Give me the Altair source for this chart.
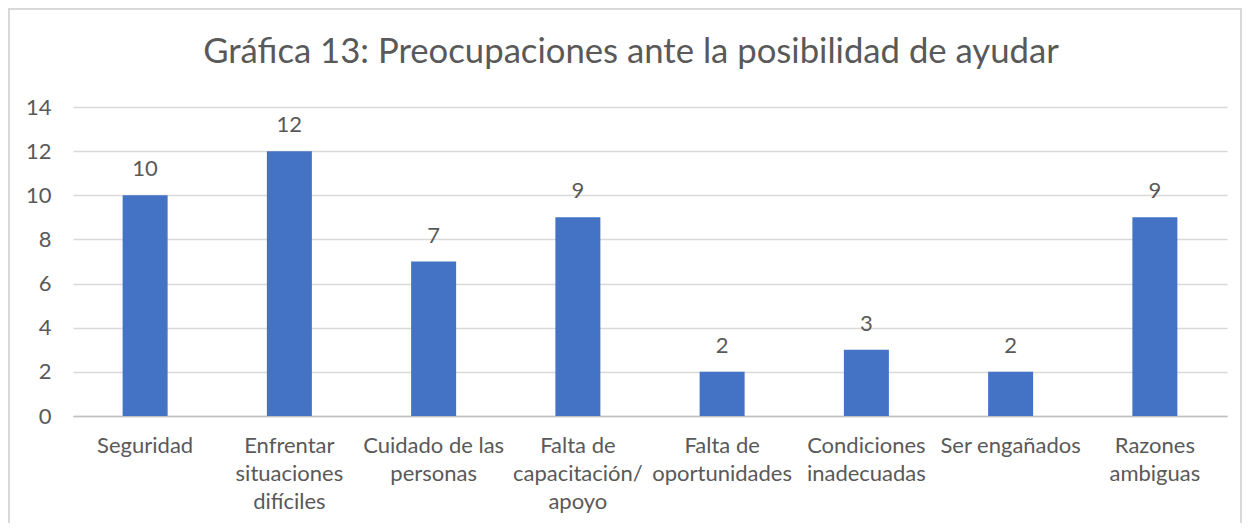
import altair as alt
import pandas as pd

categories = [
    "Seguridad",
    "Enfrentar|situaciones|difíciles",
    "Cuidado de las|personas",
    "Falta de|capacitación/|apoyo",
    "Falta de|oportunidades",
    "Condiciones|inadecuadas",
    "Ser engañados",
    "Razones|ambiguas",
]
values = [10, 12, 7, 9, 2, 3, 2, 9]
y_ticks = [0, 2, 4, 6, 8, 10, 12, 14]
title_text = "Gráfica 13: Preocupaciones ante la posibilidad de ayudar"

df = pd.DataFrame({"cat": categories, "val": values})

FONT = "Lato"
TXT = "#595959"

x_enc = alt.X(
    "cat:N",
    sort=categories,
    title=None,
    scale=alt.Scale(paddingInner=0, paddingOuter=0),
    axis=alt.Axis(
        labelExpr="split(datum.label, '|')",
        labelAngle=0,
        labelFontSize=22,
        labelFont=FONT,
        labelColor=TXT,
        labelLineHeight=28,
        labelPadding=19,
        labelBaseline="top",
        ticks=False,
        domainColor="#BFBFBF",
        domainWidth=1.5,
        grid=False,
        labelLimit=300,
    ),
)
y_enc = alt.Y(
    "val:Q",
    title=None,
    scale=alt.Scale(domain=[0, 14], nice=False),
    axis=alt.Axis(
        values=y_ticks,
        labelFontSize=22,
        labelFont=FONT,
        labelColor=TXT,
        labelPadding=22,
        ticks=False,
        domain=False,
        gridColor="#D9D9D9",
        gridWidth=1.5,
    ),
)

bars = alt.Chart(df).mark_bar(color="#4472C4", size=45).encode(x=x_enc, y=y_enc)
labels = alt.Chart(df).mark_text(
    baseline="bottom", dy=-14, fontSize=22, font=FONT, color=TXT
).encode(x=alt.X("cat:N", sort=categories), y="val:Q", text="val:Q")

one = pd.DataFrame({"t": [title_text]})
border = alt.Chart(one).mark_rect(
    fill=None, stroke="#D9D9D9", strokeWidth=2
).encode(
    x=alt.value(-64), x2=alt.value(1168), y=alt.value(-98), y2=alt.value(440)
)
title = alt.Chart(one).mark_text(
    fontSize=34.7, font=FONT, color=TXT, align="center", baseline="middle"
).encode(x=alt.value(558), y=alt.value(-54), text="t:N")

chart = (
    alt.layer(border, title, bars, labels)
    .properties(
        width=1154,
        height=309,
        autosize=alt.AutoSizeParams(type="none"),
        padding={"left": 65, "top": 99, "right": 15, "bottom": 107},
    )
    .configure_view(stroke=None)
)

chart.save("out.html", embed_options={"renderer": "svg", "actions": False})
